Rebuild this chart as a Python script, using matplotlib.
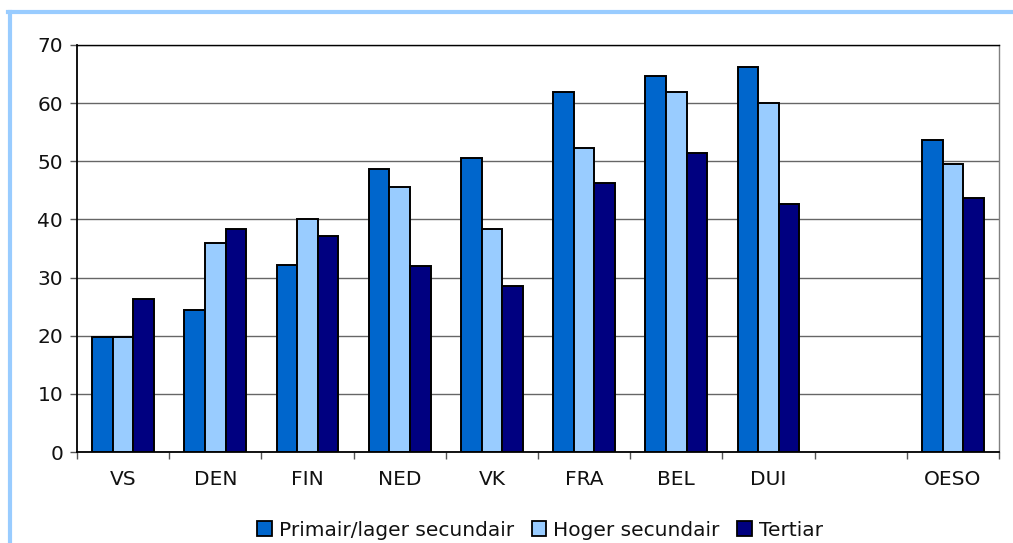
import numpy as np
import matplotlib
matplotlib.use("Agg")
import matplotlib.pyplot as plt
from matplotlib.lines import Line2D
from matplotlib.ticker import FixedLocator

categories = ["VS", "DEN", "FIN", "NED", "VK", "FRA", "BEL", "DUI", "", "OESO"]
primair = [19.8, 24.5, 32.2, 48.7, 50.5, 62.0, 64.7, 66.2, np.nan, 53.6]
hoger = [19.8, 36.0, 40.0, 45.5, 38.4, 52.3, 61.9, 60.1, np.nan, 49.5]
tertiar = [26.3, 38.4, 37.2, 32.0, 28.5, 46.2, 51.4, 42.7, np.nan, 43.6]
series_names = ["Primair/lager secundair", "Hoger secundair", "Tertiar"]
colors = ["#0066CC", "#99CCFF", "#000080"]
yticks = [0, 10, 20, 30, 40, 50, 60, 70]

FS = 14.5
plt.rcParams['font.family'] = ['DejaVu Sans']
fig = plt.figure(figsize=(10.13, 5.43), dpi=100)
ax = fig.add_axes([77/1013, 1-452/543, (999-77)/1013, (452-45)/543])

x = np.arange(len(categories))
w = 0.224
for i, (vals, name, c) in enumerate(zip([primair, hoger, tertiar], series_names, colors)):
    ax.bar(x + (i-1)*w, vals, width=w, color=c, edgecolor="black", linewidth=1.4,
           label=name, zorder=3)

ax.set_xlim(-0.5, len(categories)-0.5)
ax.set_ylim(0, 70)
ax.set_yticks(yticks)
ax.yaxis.grid(True, color="#666666", linewidth=1, zorder=0)
ax.set_axisbelow(True)

ax.xaxis.set_major_locator(FixedLocator(np.arange(-0.5, len(categories)+0.5, 1)))
ax.xaxis.set_minor_locator(FixedLocator(x))
ax.set_xticklabels([], minor=False)
ax.set_xticklabels(categories, minor=True)
ax.tick_params(axis="x", which="major", length=5, width=1, color="#555555", direction="out")
ax.tick_params(axis="x", which="minor", length=0, pad=13, labelsize=FS, labelcolor="#111111")
ax.tick_params(axis="y", length=5, width=1, color="#555555", direction="out", pad=5,
               labelsize=FS, labelcolor="#111111")

for s in ["left", "bottom"]:
    ax.spines[s].set_color("black")
    ax.spines[s].set_linewidth(1.3)
ax.spines["top"].set_color("black")
ax.spines["top"].set_linewidth(1)
ax.spines["right"].set_color("#808080")
ax.spines["right"].set_linewidth(1)

# light blue frame
fig.add_artist(Line2D([9.5/1013, 9.5/1013], [1-12/543, 0], color="#99CCFF", linewidth=3,
                      transform=fig.transFigure))
fig.add_artist(Line2D([8/1013, 1], [1-12/543, 1-12/543], color="#99CCFF", linewidth=3,
                      transform=fig.transFigure))

leg = fig.legend(loc="center", bbox_to_anchor=(540/1013, 1-530/543), ncol=3, frameon=False,
                 fontsize=FS, handlelength=0.7, handleheight=0.7, handletextpad=0.35,
                 columnspacing=0.9, borderaxespad=0)
for t in leg.get_texts():
    t.set_color("#111111")
for h in leg.legend_handles:
    h.set_linewidth(1.3)

fig.savefig("out.png", dpi=100)
